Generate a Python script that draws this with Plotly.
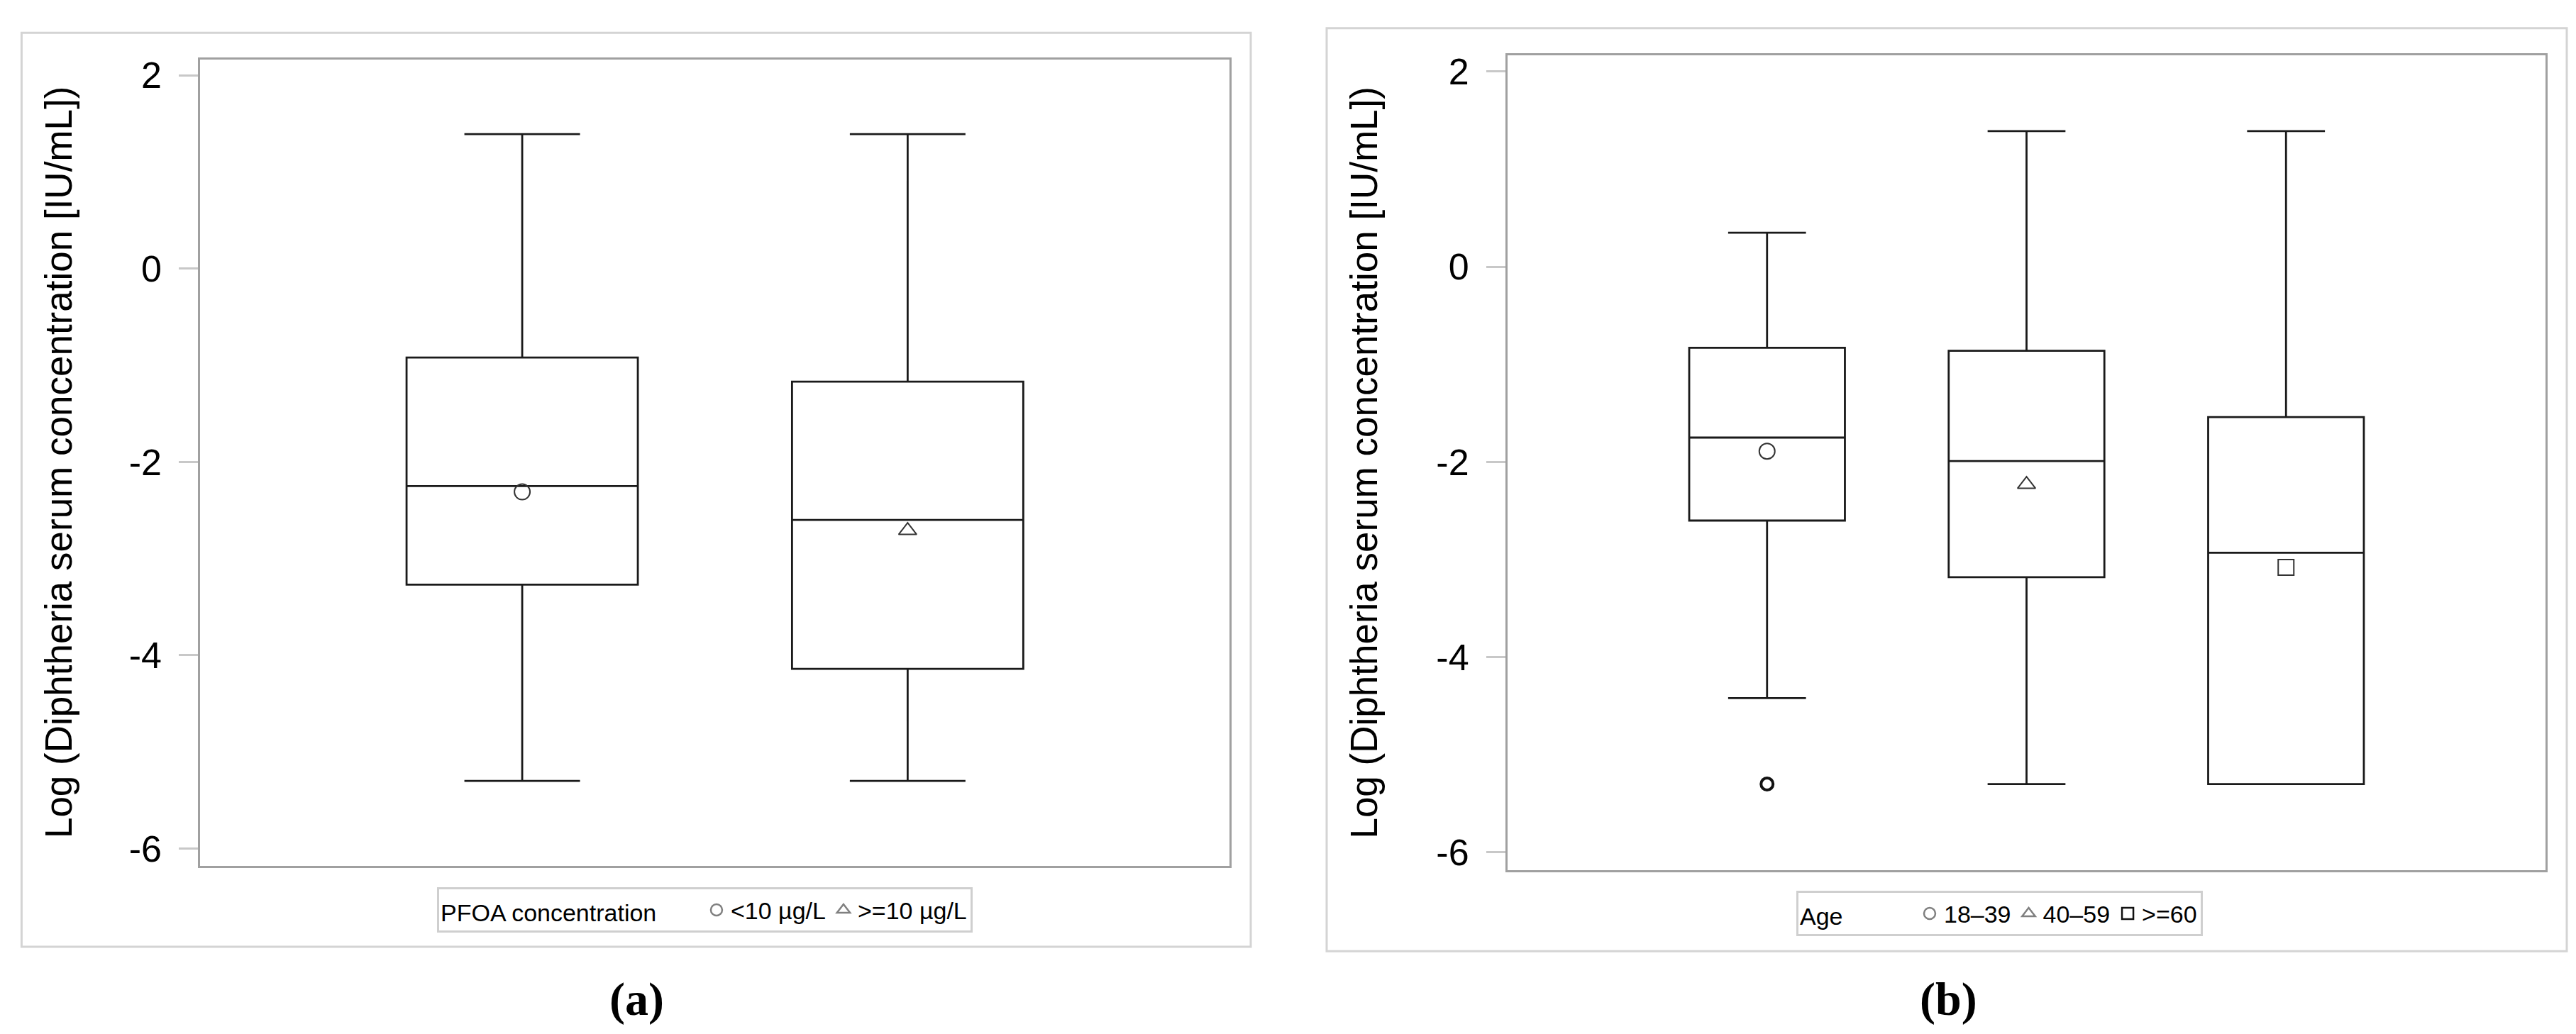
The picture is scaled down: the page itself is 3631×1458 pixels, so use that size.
import plotly.graph_objects as go

# 그림 (a): PFOA 농도 그룹별 박스 통계값
pfoa_groups = ['<10 µg/L', '>=10 µg/L']
pfoa_upper = [1.39, 1.39]
pfoa_q3 = [-0.92, -1.17]
pfoa_median = [-2.25, -2.60]
pfoa_q1 = [-3.27, -4.14]
pfoa_lower = [-5.30, -5.30]
pfoa_mean = [-2.31, -2.71]
pfoa_symbols = ['circle-open', 'triangle-up-open']

# 그림 (b): 연령 그룹별 박스 통계값
age_groups = ['18–39', '40–59', '>=60']
age_upper = [0.35, 1.39, 1.39]
age_q3 = [-0.83, -0.86, -1.54]
age_median = [-1.75, -1.99, -2.93]
age_q1 = [-2.60, -3.18, -5.30]
age_lower = [-4.42, -5.30, -5.30]
age_mean = [-1.89, -2.23, -3.08]
age_symbols = ['circle-open', 'triangle-up-open', 'square-open']
age_outlier_group = [0]
age_outlier_value = [-5.30]

y_tickvals = [-6, -4, -2, 0, 2]
y_ticktext = ['-6', '-4', '-2', '0', '2']
y_title = 'Log (Diphtheria serum concentration [IU/mL])'

W, H = 3631, 1458
BOX_LINE = '#1a1a1a'
FRAME = '#a0a0a0'
PANEL = '#d4d4d4'
FONT = 'Liberation Sans, Arial, sans-serif'
LEGEND_SIZE = 34
NBSP = '\u00a0'


def px_x(v):
    return v / W


def px_y(v):
    return 1 - v / H


def add_panel(fig, xaxis, yaxis, legend, groups, upper, q3, med, q1, lower, mean, symbols, legend_colors):
    """박스, 평균 마커, 범례 항목 추가"""
    for i, g in enumerate(groups):
        fig.add_trace(go.Box(
            x=[i], q1=[q1[i]], median=[med[i]], q3=[q3[i]],
            lowerfence=[lower[i]], upperfence=[upper[i]],
            width=0.6, whiskerwidth=0.5, boxpoints=False,
            fillcolor='rgba(0,0,0,0)', line=dict(color=BOX_LINE, width=2.8),
            showlegend=False, hoverinfo='skip', xaxis=xaxis, yaxis=yaxis))
        fig.add_trace(go.Scatter(
            x=[i], y=[mean[i]], mode='markers', showlegend=False,
            marker=dict(symbol=symbols[i], size=22, color='#333333', line=dict(width=2)),
            xaxis=xaxis, yaxis=yaxis))
        # 범례 전용 (빈 데이터)
        fig.add_trace(go.Scatter(
            x=[None], y=[None], mode='markers', name=g, legend=legend,
            marker=dict(symbol=symbols[i], size=16, color=legend_colors[i], line=dict(width=2.5)),
            xaxis=xaxis, yaxis=yaxis))


def draw_figure():
    fig = go.Figure()

    add_panel(fig, 'x', 'y', 'legend', pfoa_groups, pfoa_upper, pfoa_q3, pfoa_median,
              pfoa_q1, pfoa_lower, pfoa_mean, pfoa_symbols, ['#808080', '#808080'])
    add_panel(fig, 'x2', 'y2', 'legend2', age_groups, age_upper, age_q3, age_median,
              age_q1, age_lower, age_mean, age_symbols, ['#808080', '#808080', '#111111'])

    # 이상치
    fig.add_trace(go.Scatter(
        x=age_outlier_group, y=age_outlier_value, mode='markers', showlegend=False,
        marker=dict(symbol='circle-open', size=17, color='#111111', line=dict(width=4)),
        xaxis='x2', yaxis='y2'))

    xcommon = dict(showticklabels=False, ticks='', showgrid=False, zeroline=False,
                   showline=True, mirror=True, linecolor=FRAME, linewidth=3)
    ycommon = dict(tickvals=y_tickvals, ticktext=y_ticktext, range=[-6.18, 2.165],
                   showgrid=False, zeroline=False, showline=True, mirror=True,
                   linecolor=FRAME, linewidth=3, ticks='outside', ticklen=27, tickwidth=3,
                   tickcolor='#c8c8c8', ticklabelstandoff=14,
                   tickfont=dict(family=FONT, size=52, color='black'))

    legend_font = dict(family=FONT, size=LEGEND_SIZE, color='black')
    legend_common = dict(orientation='h', xanchor='left', yanchor='top',
                         bordercolor='#cfcfcf', borderwidth=3, bgcolor='white',
                         font=legend_font, itemclick=False, itemdoubleclick=False)

    fig.update_layout(
        width=W, height=H,
        margin=dict(l=0, r=0, t=0, b=0),
        plot_bgcolor='white',
        paper_bgcolor='white',
        showlegend=True,
        xaxis=dict(domain=[px_x(274.4), px_x(1724.5)], range=[-0.835, 1.834], **xcommon),
        yaxis=dict(domain=[px_y(1215.5), px_y(70)], **ycommon),
        xaxis2=dict(domain=[px_x(2117), px_x(3580)], range=[-1, 3], anchor='y2', **xcommon),
        yaxis2=dict(domain=[px_y(1221), px_y(64.7)], anchor='x2', **ycommon),
        legend=dict(x=px_x(608), y=px_y(1246),
                    title=dict(text='PFOA concentration' + NBSP * 6, side='left', font=legend_font),
                    **legend_common),
        legend2=dict(x=px_x(2524), y=px_y(1251),
                     title=dict(text='Age' + NBSP * 10, side='left', font=legend_font),
                     **legend_common),
    )

    # 패널 외곽선
    for x0, y0, x1, y1 in [(22.4, 32.5, 1755, 1330), (1862, 26, 3610, 1336.5)]:
        fig.add_shape(type='rect', xref='paper', yref='paper',
                      x0=px_x(x0), x1=px_x(x1), y0=px_y(y1), y1=px_y(y0),
                      line=dict(color=PANEL, width=3), layer='below')

    # y축 제목과 패널 라벨
    for xc, yc in [(74, 642.5), (1915, 643)]:
        fig.add_annotation(text=y_title, xref='paper', yref='paper', x=px_x(xc), y=px_y(yc),
                           textangle=-90, showarrow=False, xanchor='center', yanchor='middle',
                           font=dict(family=FONT, size=53, color='black'))
    for label, xc in [('(a)', 889), ('(b)', 2738)]:
        fig.add_annotation(text='<b>' + label + '</b>', xref='paper', yref='paper',
                           x=px_x(xc), y=px_y(1405), showarrow=False,
                           xanchor='center', yanchor='middle',
                           font=dict(family='Liberation Serif, Times New Roman, serif', size=66, color='black'))
    return fig


def main():
    fig = draw_figure()
    fig.write_html('out.html')


if __name__ == '__main__':
    main()
